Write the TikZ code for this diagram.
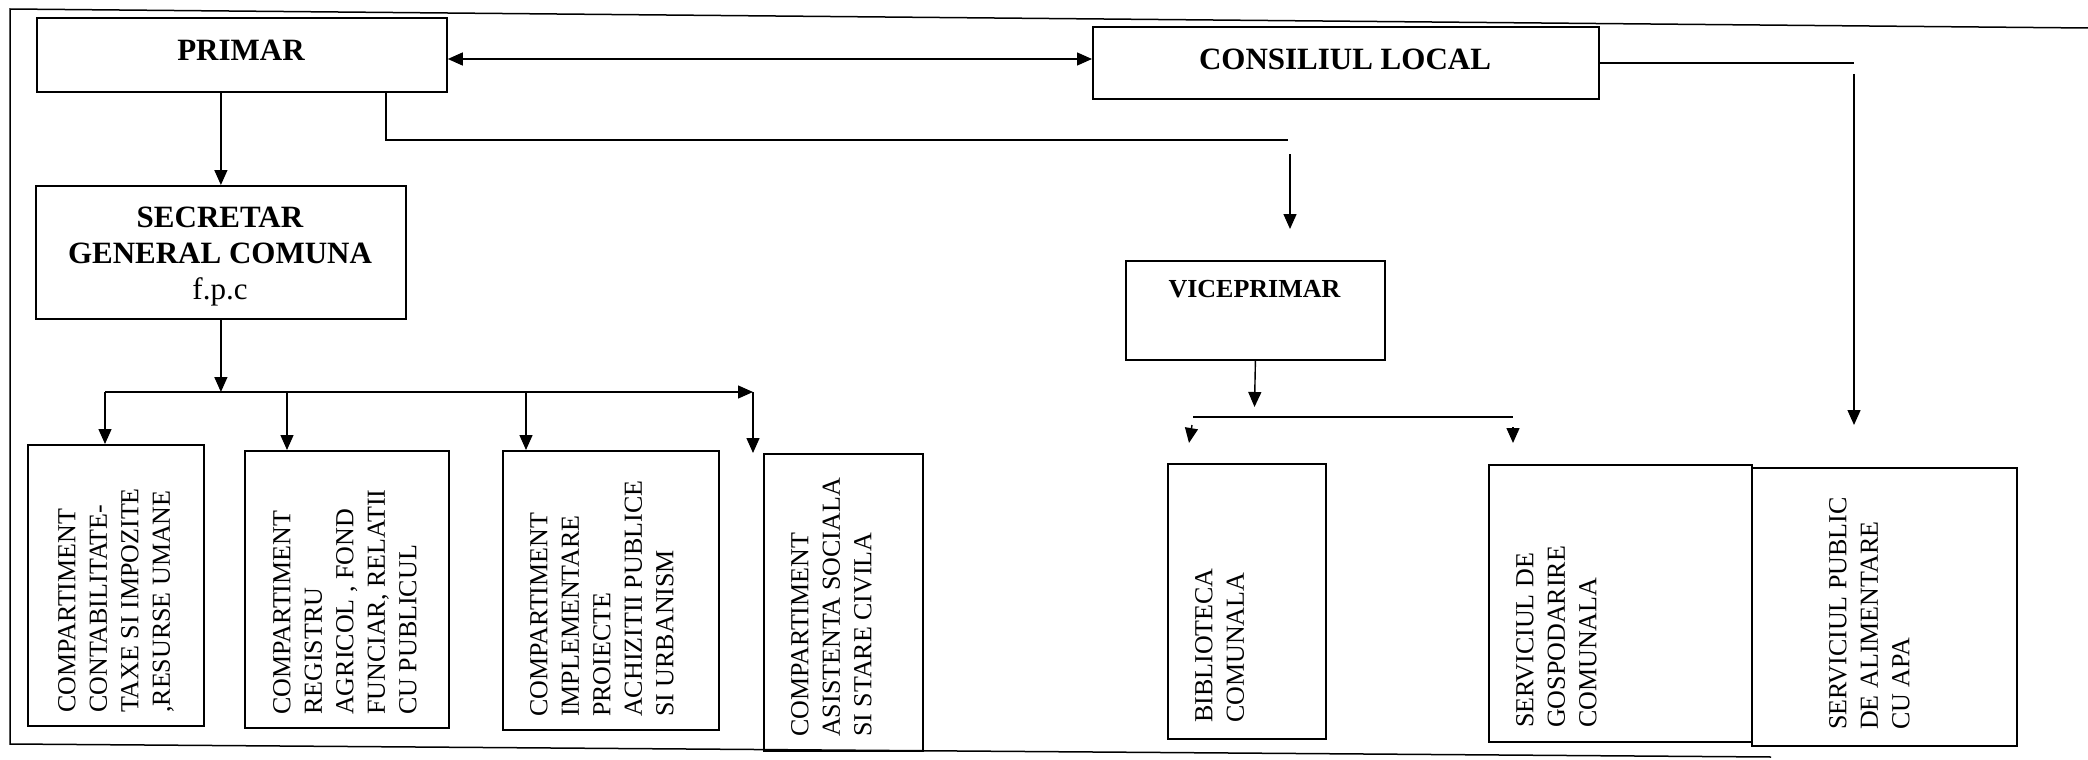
\documentclass[tikz,border=0pt]{standalone}
\usepackage{fontspec}
\setmainfont{Liberation Serif}
\usetikzlibrary{arrows.meta}
\begin{document}
\begin{tikzpicture}[x=1pt,y=-1pt,
  box/.style={draw, line width=1.8pt, inner sep=0pt, anchor=north west},
  conn/.style={line width=1.4pt},
  arr/.style={conn, -{Triangle[length=15pt,width=13pt]}},
  dblarr/.style={conn, {Triangle[length=15pt,width=13pt]}-{Triangle[length=15pt,width=13pt]}},
  frameline/.style={line width=1.5pt},
  title/.style={font=\bfseries\fontsize{31}{36}\selectfont, inner sep=0pt},
  vtitle/.style={font=\bfseries\fontsize{26}{31}\selectfont, inner sep=0pt},
  vtext/.style={rotate=90, anchor=north west, align=left, inner sep=0pt, font=\fontsize{26}{31.5}\selectfont},
]
\useasboundingbox (0,0) rectangle (2088,760);

% outer frame
\draw[frameline] (2088,28) -- (10,9) -- (10,744) -- (1771,757);

% boxes
\node[box, minimum width=410pt, minimum height=74pt] (P) at (36,17) {};
\node[box, minimum width=506pt, minimum height=72pt] (C) at (1092,26) {};
\node[box, minimum width=370pt, minimum height=133pt] (S) at (35,185) {};
\node[box, minimum width=259pt, minimum height=99pt] (V) at (1125,260) {};
\node[box, minimum width=176pt, minimum height=281pt] (B1) at (27,444) {};
\node[box, minimum width=204pt, minimum height=277pt] (B2) at (244,450) {};
\node[box, minimum width=216pt, minimum height=279pt] (B3) at (502,450) {};
\node[box, minimum width=159pt, minimum height=297pt] (B4) at (763,453) {};
\node[box, minimum width=158pt, minimum height=275pt] (BIB) at (1167,463) {};
\node[box, minimum width=263pt, minimum height=277pt] (GOS) at (1488,464) {};
\node[box, minimum width=265pt, minimum height=278pt] (SPA) at (1751,467) {};

% texts
\node[title, anchor=base] (Pt) at (241,60) {PRIMAR};
\node[title, anchor=base] (Ct) at (1345,70) {CONSILIUL LOCAL};
\node[title, anchor=north, align=center] (St) at (220,206.5) {SECRETAR\\GENERAL COMUNA\\{\mdseries f.p.c}};
\node[vtitle, anchor=base] (Vt) at (1254.5,297) {VICEPRIMAR};

\node[vtext] (T1) at (58,713) {COMPARTIMENT\\CONTABILITATE-\\TAXE SI IMPOZITE\\,RESURSE UMANE};
\node[vtext] (T2) at (273,715) {COMPARTIMENT\\REGISTRU\\AGRICOL , FOND\\FUNCIAR, RELATII\\CU PUBLICUL};
\node[vtext] (T3) at (530,717) {COMPARTIMENT\\IMPLEMENTARE\\PROIECTE\\ACHIZITII PUBLICE\\SI URBANISM};
\node[vtext] (T4) at (791,737) {COMPARTIMENT\\ASISTENTA SOCIALA\\SI STARE CIVILA};
\node[vtext] (T5) at (1195,723) {BIBLIOTECA\\COMUNALA};
\node[vtext] (T6) at (1516,728) {SERVICIUL DE\\GOSPODARIRE\\COMUNALA};
\node[vtext] (T7) at (1829,730) {SERVICIUL PUBLIC\\DE ALIMENTARE\\CU APA};

% coordinates
\coordinate (dy) at (0,59);
\coordinate (bus0) at (105,392);
\coordinate (bus1) at (287,392);
\coordinate (bus2) at (526,392);
\coordinate (busE) at (753,392);
\coordinate (pv1) at (386,140);
\coordinate (pv2) at (1288,140);
\coordinate (pv3) at (1290,154);
\coordinate (pv4) at (1290,229);
\coordinate (cs1) at (1854,62);
\coordinate (cs2) at (1854,74);
\coordinate (cs3) at (1854,425);
\coordinate (vb) at (1254.5,407);
\coordinate (vl) at (1193,417);
\coordinate (vr) at (1513,417);
\coordinate (vl1) at (1192,425);
\coordinate (vl2) at (1189,443);
\coordinate (vr1) at (1513,427);
\coordinate (vr2) at (1513,443);

% connectors
\draw[dblarr] (P.east |- dy) -- (C.west |- dy);
\draw[arr] (P.south -| S.north) -- (S.north);
\draw[conn] (P.south -| pv1) -- (pv1) -- (pv2);
\draw[arr] (pv3) -- (pv4);
\draw[conn] (C.east) -- (C.east -| cs1);
\draw[arr] (cs2) -- (cs3);

\draw[arr] (S.south) -- (S.south |- bus0);
\draw[arr] (bus0) -- (busE);
\draw[arr] (bus0) -- (bus0 |- B1.north);
\draw[arr] (bus1) -- (bus1 |- B2.north);
\draw[arr] (bus2) -- (bus2 |- B3.north);
\draw[arr] (busE) -- (busE |- B4.north);

\draw[arr] (V.south) -- (vb);
\draw[conn] (vl) -- (vr);
\draw[arr] (vl1) -- (vl2);
\draw[arr] (vr1) -- (vr2);
\end{tikzpicture}
\end{document}
